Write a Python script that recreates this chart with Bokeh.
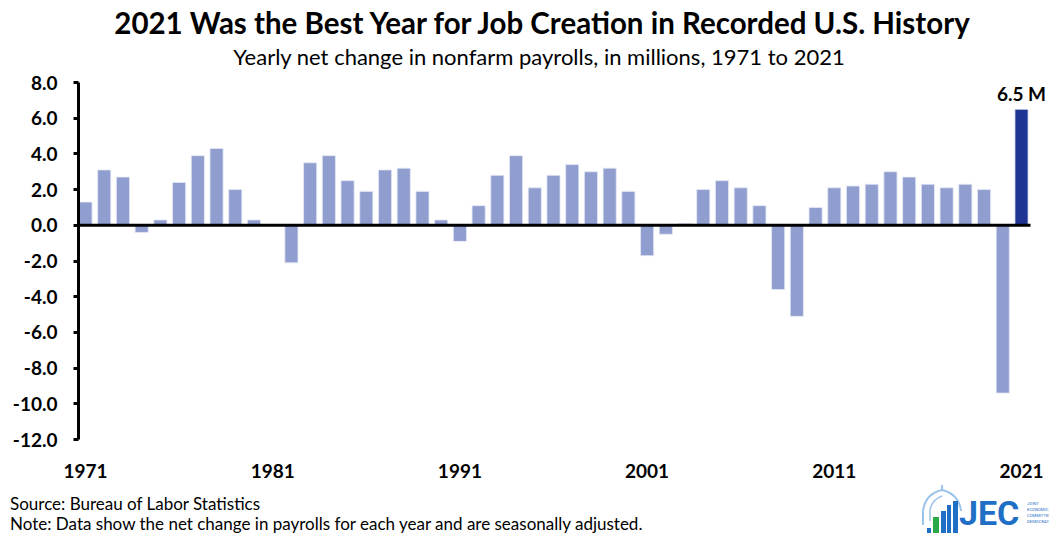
from bokeh.plotting import figure
from bokeh.layouts import column
from bokeh.models import Range1d, FixedTicker, Label, ColumnDataSource, CustomJSTickFormatter, Div
from bokeh.embed import file_html
from bokeh.resources import INLINE

# ---- data ----
years = list(range(1971, 2022))
values = [1.3, 3.1, 2.7, -0.4, 0.3, 2.4, 3.9, 4.3, 2.0, 0.3,
          0.0, -2.1, 3.5, 3.9, 2.5, 1.9, 3.1, 3.2, 1.9, 0.3,
          -0.9, 1.1, 2.8, 3.9, 2.1, 2.8, 3.4, 3.0, 3.2, 1.9,
          -1.7, -0.5, 0.1, 2.0, 2.5, 2.1, 1.1, -3.6, -5.1, 1.0,
          2.1, 2.2, 2.3, 3.0, 2.7, 2.3, 2.1, 2.3, 2.0, -9.4,
          6.5]
x_tick_years = [1971, 1981, 1991, 2001, 2011, 2021]
y_ticks = [8, 6, 4, 2, 0, -2, -4, -6, -8, -10, -12]
highlight_year = 2021
highlight_label = "6.5 M"
title_text = "2021 Was the Best Year for Job Creation in Recorded U.S. History"
subtitle_text = "Yearly net change in nonfarm payrolls, in millions, 1971 to 2021"
source_text = "Source: Bureau of Labor Statistics"
note_text = "Note: Data show the net change in payrolls for each year and are seasonally adjusted."
logo_text = "JEC"
logo_lines = ["JOINT", "ECONOMIC", "COMMITTEE", "DEMOCRATS"]

LIGHT = "#8F9DCF"
DARK = "#1F3594"
LOGO_BLUE = "#1F6FC6"
LOGO_GREEN = "#2BA84A"
LOGO_LIGHT = "#9CC3EA"
FONT = "Lato"

W = 1049
TOP_H, MAIN_H, BOT_H = 70, 415, 48
F_LEFT, F_RIGHT = 78, 1049
F_TOP_LOCAL, F_BOTTOM_LOCAL = 12, 369   # frame inside main figure (canvas 82..439)
PX_PER_YEAR = 18.72
X_FIRST_PX = 85

def dx(px):
    return years[0] + (px - X_FIRST_PX) / PX_PER_YEAR

Y_MIN, Y_MAX = -12, 8

def st(family, size, weight="normal", color="black", anchor="start"):
    return (f'style="font-family:{family};font-size:{size}px;font-weight:{weight};'
            f'fill:{color};text-anchor:{anchor}"')

# ---- header (inline SVG) ----
header_svg = f'''<svg xmlns="http://www.w3.org/2000/svg" width="{W}" height="{TOP_H}" style="display:block">
<text x="542" y="34" {st(FONT, 29.5, "bold", anchor="middle")}>{title_text}</text>
<text x="539" y="65" {st(FONT, 22, anchor="middle")}>{subtitle_text}</text>
</svg>'''
top = Div(text=header_svg, width=W, height=TOP_H, margin=0)

# ---- main chart ----
colors = [DARK if y == highlight_year else LIGHT for y in years]
src = ColumnDataSource(dict(x=years, top=values, color=colors))

p = figure(width=W, height=MAIN_H, output_backend="svg", toolbar_location=None,
           x_range=Range1d(dx(F_LEFT), dx(F_RIGHT)), y_range=Range1d(Y_MIN, Y_MAX),
           min_border_left=F_LEFT, min_border_right=W - F_RIGHT,
           min_border_top=F_TOP_LOCAL, min_border_bottom=MAIN_H - F_BOTTOM_LOCAL)
p.outline_line_color = None
p.xgrid.visible = False
p.ygrid.visible = False
p.background_fill_color = "white"
p.border_fill_color = "white"

p.vbar(x="x", top="top", bottom=0, width=0.70, fill_color="color",
       line_color="#E4E8F5", line_width=0.8, source=src)

# zero line
p.segment(x0=[dx(F_LEFT)], x1=[dx(1030)], y0=[0], y1=[0], line_color="black", line_width=3)

yax = p.yaxis[0]
yax.ticker = FixedTicker(ticks=y_ticks)
yax.formatter = CustomJSTickFormatter(code="return tick.toFixed(1);")
yax.axis_line_color = "black"
yax.axis_line_width = 3
yax.major_tick_line_color = "black"
yax.major_tick_line_width = 3
yax.major_tick_in = 0
yax.major_tick_out = 5
yax.minor_tick_line_color = None
yax.major_label_text_font = FONT
yax.major_label_text_font_style = "bold"
yax.major_label_text_font_size = "19px"
yax.major_label_text_color = "black"
yax.major_label_standoff = 16

xax = p.xaxis[0]
xax.ticker = FixedTicker(ticks=x_tick_years)
xax.axis_line_color = None
xax.major_tick_line_color = None
xax.minor_tick_line_color = None
xax.major_label_text_font = FONT
xax.major_label_text_font_style = "bold"
xax.major_label_text_font_size = "19px"
xax.major_label_text_color = "black"
xax.major_label_standoff = 18

p.add_layout(Label(x=highlight_year, y=values[years.index(highlight_year)], y_offset=4,
                   text=highlight_label, text_align="center", text_baseline="bottom",
                   text_font=FONT, text_font_style="bold", text_font_size="19px",
                   text_color="black"))

# ---- footer: notes and JEC logo (inline SVG) ----
small = "".join(
    f'<text x="1027" y="{20 + 6 * i}" {st("Roboto", 4.2, color=LOGO_BLUE)}>{t}</text>'
    for i, t in enumerate(logo_lines))
footer_svg = f'''<svg xmlns="http://www.w3.org/2000/svg" width="{W}" height="{BOT_H}" style="display:block">
<text x="10" y="25" {st(FONT, 17)}>{source_text}</text>
<text x="10" y="45" {st(FONT, 17)}>{note_text}</text>
<path d="M 923 40 L 923 26 Q 925 9 942 5 Q 959 9 961 26" stroke="{LOGO_LIGHT}" stroke-width="2" fill="none"/>
<path d="M 930 36 L 930 24 Q 933 14 942 11" stroke="{LOGO_LIGHT}" stroke-width="1.5" fill="none"/>
<line x1="942" y1="0" x2="942" y2="5" stroke="{LOGO_LIGHT}" stroke-width="2"/>
<rect x="927" y="43" width="4" height="5" fill="{LOGO_BLUE}"/>
<rect x="933" y="32" width="6" height="16" fill="{LOGO_GREEN}"/>
<rect x="941" y="26" width="5" height="22" fill="{LOGO_BLUE}"/>
<rect x="947" y="20" width="4" height="28" fill="{LOGO_BLUE}"/>
<rect x="953" y="16" width="5" height="32" fill="{LOGO_BLUE}"/>
<text x="959" y="40" {st("Roboto", 34, "bold", color=LOGO_BLUE)}>{logo_text}</text>
{small}
</svg>'''
bot = Div(text=footer_svg, width=W, height=BOT_H, margin=0)

layout = column(top, p, bot, spacing=0)
open("out.html", "w").write(file_html(layout, INLINE))
